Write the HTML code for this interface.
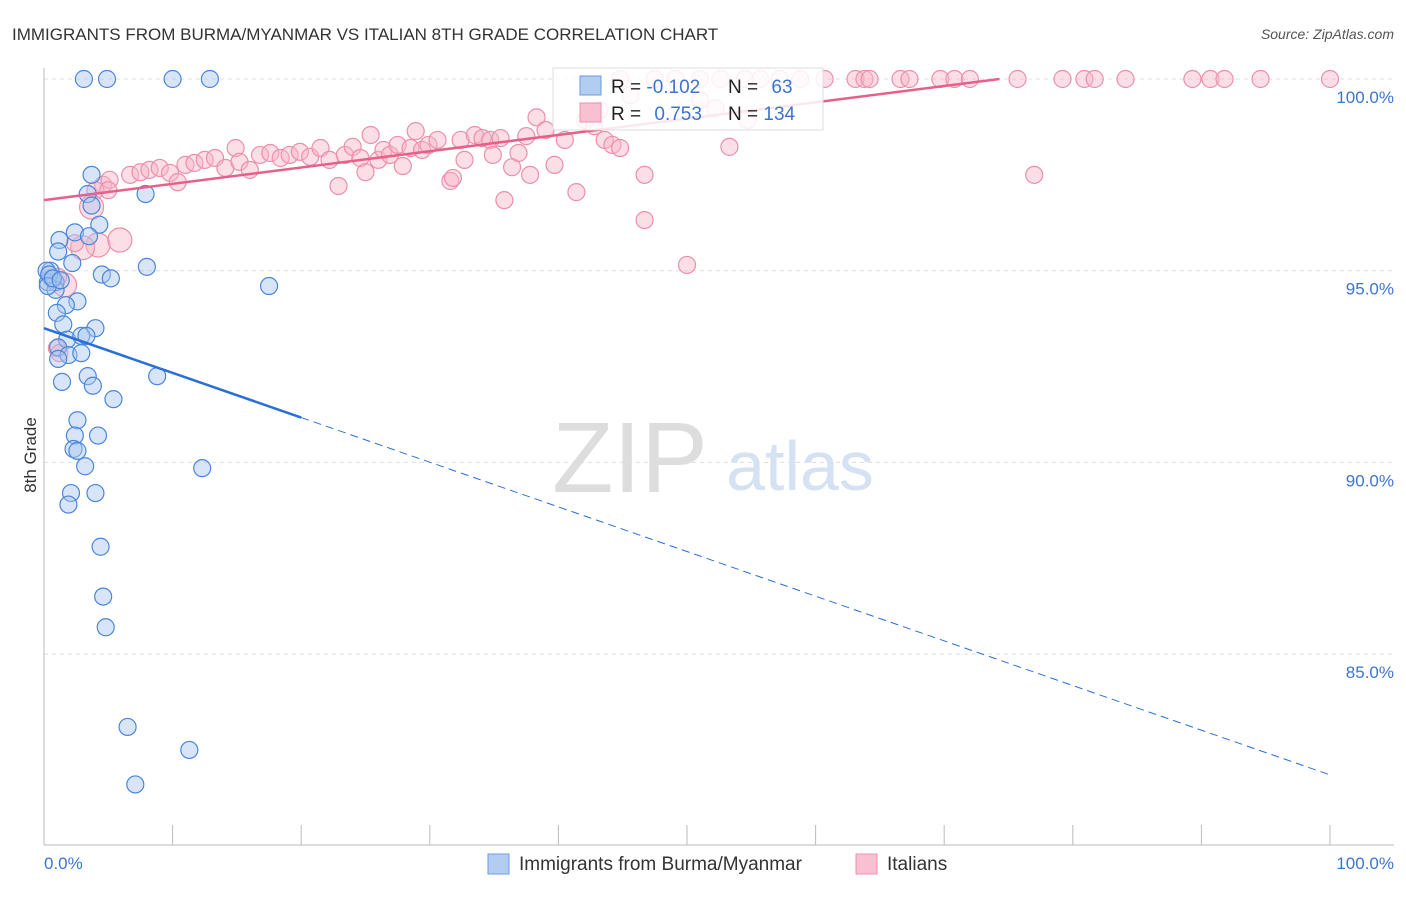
<!DOCTYPE html>
<html><head><meta charset="utf-8"><style>
body{margin:0;background:#fff;font-family:"Liberation Sans",sans-serif}
svg text{font-family:"Liberation Sans",sans-serif}
</style></head><body>
<svg width="1406" height="892">
<text x="12" y="40" font-size="17" fill="#333">IMMIGRANTS FROM BURMA/MYANMAR VS ITALIAN 8TH GRADE CORRELATION CHART</text>
<text x="1394" y="39" font-size="14" fill="#555" text-anchor="end" font-style="italic">Source: ZipAtlas.com</text>
<g id="grid"></g>
<text x="630" y="492" font-size="100" fill="#ddd" font-family="Liberation Serif" text-anchor="middle">ZIP</text>
<text x="800" y="490" font-size="70" fill="#d5e2f3" text-anchor="middle">atlas</text>
<g id="pts"></g>
<g id="lines"></g>
<text x="36" y="455" font-size="17" fill="#333" transform="rotate(-90 36 455)" text-anchor="middle">8th Grade</text>
<text x="44" y="869" font-size="17" fill="#3a75d0">0.0%</text>
<text x="1394" y="869" font-size="17" fill="#3a75d0" text-anchor="end">100.0%</text>
<g>
<rect x="553" y="68" width="270" height="62" fill="#fff" fill-opacity="0.85" stroke="#ddd"/>
<rect x="580" y="76" width="21" height="19" fill="#b3cdf2" stroke="#6a9be0"/>
<rect x="580" y="103" width="21" height="19" fill="#f8c0d0" stroke="#ec8fab"/>
<text x="611" y="93" font-size="19" fill="#222">R = <tspan fill="#3a75d0">-0.102</tspan></text>
<text x="728" y="93" font-size="19" fill="#222">N = <tspan fill="#3a75d0" dx="8">63</tspan></text>
<text x="611" y="120" font-size="19" fill="#222">R = <tspan fill="#3a75d0" dx="8">0.753</tspan></text>
<text x="728" y="120" font-size="19" fill="#222">N = <tspan fill="#3a75d0">134</tspan></text>
</g>
<g>
<rect x="488" y="854" width="21" height="20" fill="#b3cdf2" stroke="#6a9be0"/>
<text x="519" y="870" font-size="19" fill="#333">Immigrants from Burma/Myanmar</text>
<rect x="856" y="854" width="21" height="20" fill="#f8c0d0" stroke="#ec8fab"/>
<text x="887" y="870" font-size="19" fill="#333">Italians</text>
</g>
</svg>
<script>
const yTicks=[100,95,90,85];
const yTickLabels=["100.0%","95.0%","90.0%","85.0%"];
const xTicks=[0,10,20,30,40,50,60,70,80,90,100];
const blueX=[3.1,4.9,10.0,12.9,3.7,3.4,7.9,3.7,4.3,2.4,3.5,1.2,1.1,2.2,8.0,0.5,4.5,5.2,0.6,0.3,0.9,17.5,0.9,2.6,1.7,1.0,1.5,4.0,1.8,2.9,3.3,1.1,1.9,2.9,1.1,1.4,3.4,3.8,8.8,5.4,2.6,2.4,4.2,2.3,2.6,3.2,12.3,2.1,4.0,1.9,4.4,4.6,4.8,6.5,11.3,7.1,0.2,0.4,0.3,0.7,1.3];
const blueY=[100,100,100,100,97.5,97.0,97.0,96.7,96.2,96.0,95.9,95.8,95.5,95.2,95.1,95.0,94.9,94.8,94.8,94.7,94.7,94.6,94.5,94.2,94.1,93.9,93.6,93.5,93.2,93.3,93.3,93.0,92.8,92.85,92.7,92.1,92.25,92.0,92.25,91.65,91.1,90.7,90.7,90.35,90.3,89.9,89.85,89.2,89.2,88.9,87.8,86.5,85.7,83.1,82.5,81.6,95.0,94.9,94.6,94.8,94.75];
const pinkX=[4.6,5.1,6.7,7.5,8.2,9.0,9.8,10.4,11.0,11.7,12.5,13.3,14.1,14.9,15.2,16.0,16.8,17.6,18.4,19.1,19.9,20.7,21.5,22.2,22.9,23.4,24.0,24.6,25.0,25.4,26.0,26.4,26.9,27.5,27.9,28.5,28.9,29.4,29.9,30.6,31.6,31.8,32.4,32.7,33.5,34.1,34.7,34.9,35.5,35.8,36.4,36.9,37.5,37.8,38.3,39.0,39.7,40.5,41.4,42.1,42.8,43.6,44.2,44.8,46.7,46.7,50.0,53.3,77.0,54.7,52.2,43.2,45.6,51.0,4.0,3.7,4.2,5.9,3.0,1.6,1.1,1.0,1.2,2.4,5.0,44.8,47.5,49.1,51.0,52.6,54.5,55.7,57.2,58.8,60.7,63.1,63.8,64.2,66.6,67.3,69.7,70.8,72.0,75.7,79.2,80.9,81.7,84.1,89.3,90.7,91.8,94.6,100];
const pinkY=[97.24,97.37,97.5,97.57,97.63,97.68,97.55,97.31,97.76,97.81,97.89,97.94,97.68,98.2,97.84,97.63,98.02,98.07,97.94,98.02,98.1,97.97,98.2,97.89,97.21,98.02,98.23,97.94,97.57,98.54,97.89,98.15,98.02,98.28,97.73,98.2,98.64,98.15,98.28,98.41,97.34,97.42,98.41,97.89,98.54,98.46,98.41,98.02,98.46,96.84,97.7,98.07,98.51,97.5,99.0,98.67,97.76,98.41,97.05,98.93,98.77,98.41,98.28,98.2,97.5,96.32,95.15,98.23,97.5,98.93,99.24,99.19,99.58,99.45,97.1,96.66,95.67,95.8,95.6,94.63,94.84,92.98,92.85,95.72,97.1,100,100,100,100,100,100,100,100,100,100,100,100,100,100,100,100,100,100,100,100,100,100,100,100,100,100,100,100];
const bigPink=[75,76,77,78,79];
const blueLine=[0,93.5,100,81.85];const blueSolidEnd=20;
const pinkLine=[0,96.84,74.3,100];
const X=v=>44+v*12.86, Y=v=>79+(100-v)*38.34;
const NS="http://www.w3.org/2000/svg";
function mk(t,a,p){const e=document.createElementNS(NS,t);for(const k in a)e.setAttribute(k,a[k]);p.appendChild(e);return e;}
const grid=document.getElementById('grid');
yTicks.forEach((t,i)=>{
const l=mk('line',{x1:44,x2:1394,y1:Y(t),y2:Y(t),stroke:'#ddd','stroke-dasharray':'4,4'},grid);


const tx=mk('text',{x:1394,y:Y(t)+24,'font-size':17,fill:'#3a75d0','text-anchor':'end'},grid);tx.textContent=yTickLabels[i];


});
const ax=mk('line',{x1:44,x2:44,y1:68,y2:845,stroke:'#bbb'},grid);


const bx=mk('line',{x1:44,x2:1394,y1:845,y2:845,stroke:'#bbb'},grid);


xTicks.forEach(t=>{const l=mk('line',{x1:X(t),x2:X(t),y1:825,y2:845,stroke:'#bbb'},grid);

});
const pts=document.getElementById('pts');
pinkX.forEach((x,i)=>{const r=bigPink.includes(i)||i===75?12:8.5;
const c=mk('circle',{cx:X(x),cy:Y(pinkY[i]),r:r,fill:'#f7b6c8','fill-opacity':0.45,stroke:'#ec8fab','stroke-width':1.2},pts);

});
blueX.forEach((x,i)=>{const c=mk('circle',{cx:X(x),cy:Y(blueY[i]),r:8.5,fill:'#a9c6ef','fill-opacity':0.45,stroke:'#4a86dc','stroke-width':1.2},pts);

});
const lines=document.getElementById('lines');
const bl=t=>blueLine[1]+(blueLine[3]-blueLine[1])*(t-blueLine[0])/(blueLine[2]-blueLine[0]);
const b1=mk('line',{x1:X(0),y1:Y(bl(0)),x2:X(blueSolidEnd),y2:Y(bl(blueSolidEnd)),stroke:'#2a6fd6','stroke-width':2.5},lines);


const b2=mk('line',{x1:X(blueSolidEnd),y1:Y(bl(blueSolidEnd)),x2:X(100),y2:Y(bl(100)),stroke:'#2a6fd6','stroke-width':1,'stroke-dasharray':'8,5'},lines);


const p1=mk('line',{x1:X(pinkLine[0]),y1:Y(pinkLine[1]),x2:X(pinkLine[2]),y2:Y(pinkLine[3]),stroke:'#e8608a','stroke-width':2.5},lines);


</script>
</body></html>
